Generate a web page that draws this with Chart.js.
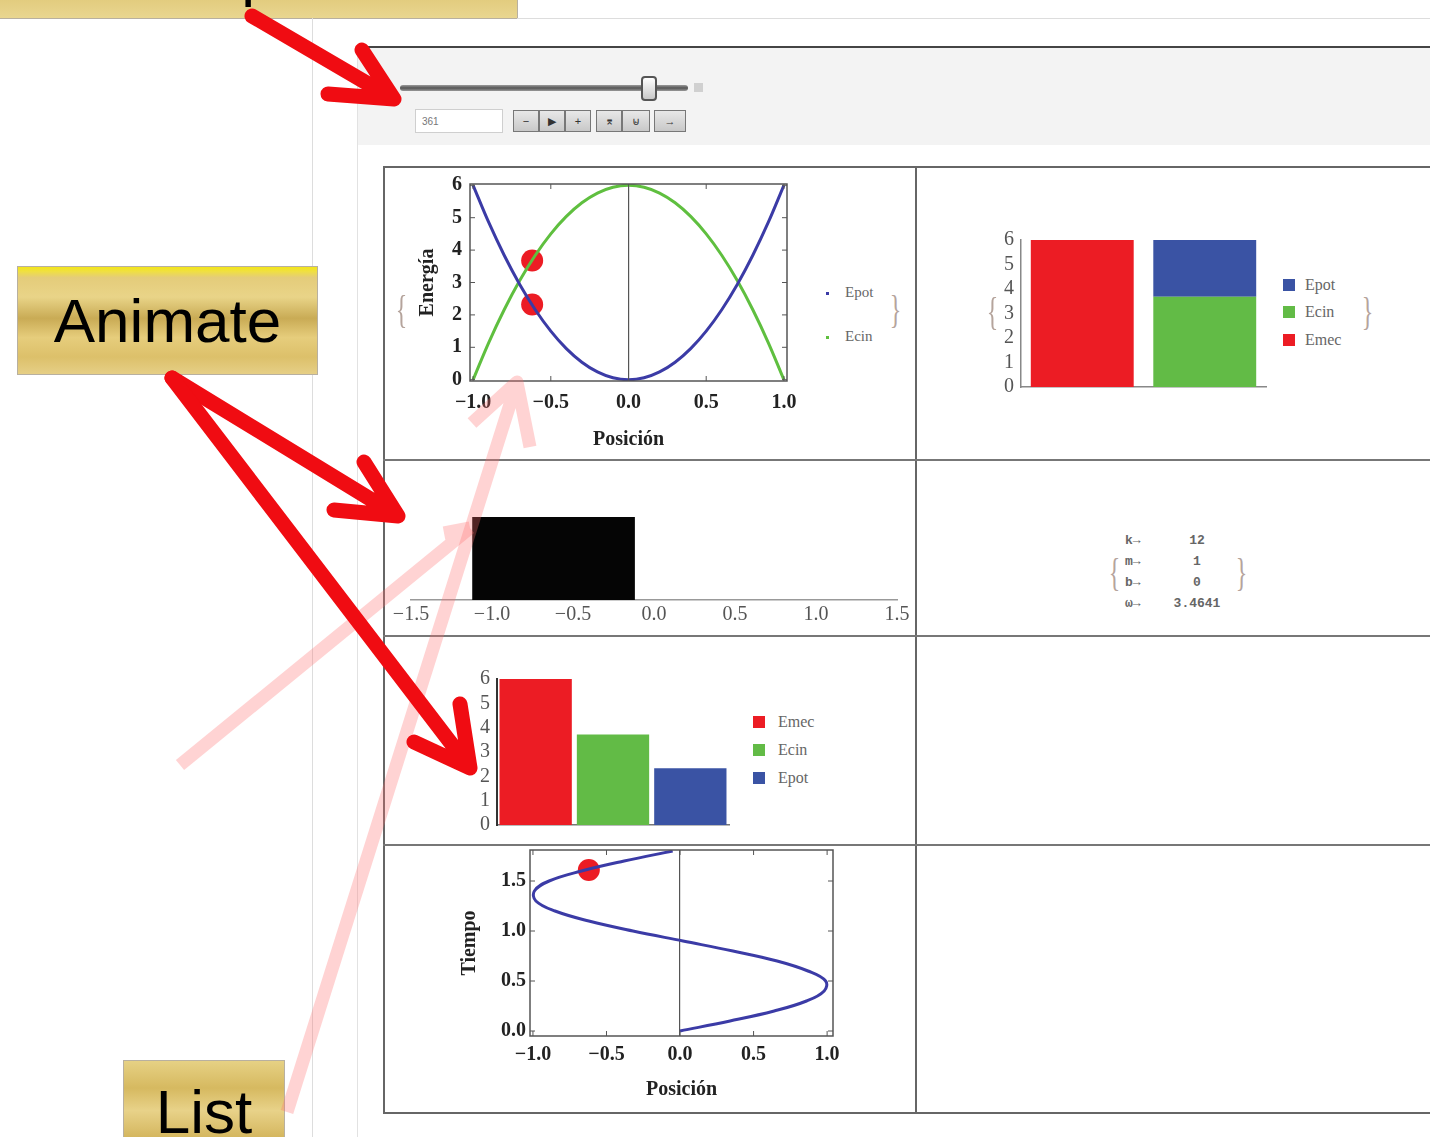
<!DOCTYPE html>
<html>
<head>
<meta charset="utf-8">
<script src="https://cdn.jsdelivr.net/npm/chart.js@4.4.1/dist/chart.umd.min.js"></script>
<style>
  body { margin: 0; width: 1430px; height: 1137px; overflow: hidden; background: #fff; position: relative; font-family: "Liberation Sans", Arial, sans-serif; }
  .abs { position: absolute; }
  .gold { position: absolute; border: 1px solid #b8b0a0; overflow: hidden; color: #000; font-family: "Liberation Sans", Arial, sans-serif; font-size: 62px; text-align: center; }
  .leg { position: absolute; font-family: "Liberation Serif", serif; font-size: 16px; color: #666; line-height: 16px; }
  .sq { position: absolute; width: 12px; height: 12px; }
  .brace { position: absolute; font-family: "Liberation Serif", serif; font-size: 40px; color: #b5a49c; line-height: 40px; transform: scaleX(0.6); }
  .btn { position: absolute; top: 110px; height: 20px; border: 1px solid #777; background: linear-gradient(#e8e8e8, #c8c8c8); font-size: 11px; color: #333; text-align: center; line-height: 20px; }
  canvas { position: absolute; }
  .param { position: absolute; font-family: "Liberation Mono", monospace; font-size: 13px; font-weight: bold; color: #666; line-height: 14px; }
</style>
</head>
<body>

<!-- slide decoration -->
<div class="gold" style="left:-1px; top:-92px; width:517px; height:109px; background:linear-gradient(#e6cf7c, #d9be66 60%, #e9d690);">
  <span class="abs" style="left:0; width:517px; top:33px; line-height:62px;">Manipulate</span>
</div>
<div class="abs" style="left:517px; top:18px; width:913px; height:1px; background:#ddd;"></div>
<div class="abs" style="left:312px; top:18px; width:1px; height:1119px; background:#ddd;"></div>

<div class="gold" style="left:17px; top:266px; width:299px; height:107px; line-height:107px;
  background:linear-gradient(#f3e51a 0%, #f0e040 4%, #e4cc7a 10%, #e9d488 28%, #c9ab55 48%, #e6cd7c 66%, #dcc06a 84%, #e6cf86 100%);">Animate</div>
<div class="gold" style="left:123px; top:1060px; width:160px; height:90px; line-height:102px;
  background:linear-gradient(#e6d184 0%, #d6b960 30%, #e8d289 55%, #d4b65e 85%, #e2c978 100%);">List</div>

<!-- Manipulate panel -->
<div class="abs" style="left:357px; top:48px; width:1073px; height:1089px; border-left:1px solid #e2e2e2;"></div>
<div class="abs" style="left:358px; top:48px; width:1072px; height:97px; background:#f3f3f3;"></div>
<div class="abs" style="left:366px; top:46px; width:1064px; height:2px; background:#444;"></div>
<div class="abs" style="left:400px; top:85px; width:288px; height:6px; border-radius:3px; background:linear-gradient(#9a9a9a,#555,#999);"></div>
<div class="abs" style="left:641px; top:76px; width:12px; height:21px; border:2px solid #555; border-radius:4px; background:linear-gradient(#fff,#c8c8c8);"></div>
<div class="abs" style="left:694px; top:83px; width:9px; height:9px; background:#d0d0d0;"></div>
<div class="abs" style="left:415px; top:109px; width:86px; height:22px; border:1px solid #cfcfcf; background:#fff; font-size:10px; color:#777; line-height:24px; text-indent:6px;">361</div>
<div class="btn" style="left:513px; width:24px;">−</div>
<div class="btn" style="left:539px; width:24px;">▶</div>
<div class="btn" style="left:565px; width:24px;">+</div>
<div class="btn" style="left:596px; width:24px;">⌆</div>
<div class="btn" style="left:622px; width:26px;">⊌</div>
<div class="btn" style="left:654px; width:30px;">→</div>

<!-- grid of the output -->
<div class="abs" style="left:383px; top:166px; width:1060px; height:944px; border:2px solid #666;"></div>
<div class="abs" style="left:915px; top:166px; width:2px; height:946px; background:#666;"></div>
<div class="abs" style="left:383px; top:459px; width:1047px; height:2px; background:#777;"></div>
<div class="abs" style="left:383px; top:635px; width:1047px; height:2px; background:#777;"></div>
<div class="abs" style="left:383px; top:844px; width:1047px; height:2px; background:#777;"></div>

<canvas id="energy" width="420" height="290" style="left:395px; top:170px;"></canvas>
<canvas id="stack" width="295" height="172" style="left:975px; top:228px;"></canvas>
<canvas id="block" width="526" height="150" style="left:386px; top:480px;"></canvas>
<canvas id="bars" width="285" height="171" style="left:455px; top:667px;"></canvas>
<canvas id="time" width="420" height="262" style="left:440px; top:845px;"></canvas>

<!-- legends -->
<div class="brace" style="left:392px; top:290px;">{</div>
<div class="brace" style="left:886px; top:290px;">}</div>
<div class="abs" style="left:826px; top:292px; width:3px; height:3px; background:#3b3ba6;"></div>
<div class="abs" style="left:826px; top:336px; width:3px; height:3px; background:#5fbf3f;"></div>
<div class="leg" style="left:845px; top:284px; font-size:15px;">Epot</div>
<div class="leg" style="left:845px; top:328px; font-size:15px;">Ecin</div>

<div class="brace" style="left:983px; top:292px;">{</div>
<div class="brace" style="left:1358px; top:292px;">}</div>
<div id="stackLegend"></div>
<div id="barLegend"></div>

<div class="brace" style="left:1105px; top:553px;">{</div>
<div class="brace" style="left:1232px; top:553px;">}</div>
<div id="params"></div>

<!-- slide arrows -->
<svg class="abs" style="left:0; top:0; z-index:10;" width="1430" height="1137">
  <g fill="none" stroke="rgba(255,110,110,0.3)" stroke-width="13" stroke-linejoin="round">
    <path d="M287 1112 L517 382 M472 423 L517 382 L530 447"/>
    <path d="M180 765 L470 528 M444 533 L470 528"/>
  </g>
  <g fill="none" stroke="#f00c12" stroke-width="15" stroke-linecap="round" stroke-linejoin="round">
    <path d="M252 16 L394 99 M328 94 L394 99 L362 50"/>
    <path d="M172 378 L398 516 M334 510 L398 516 L364 462"/>
    <path d="M172 378 L470 768 M414 742 L470 768 L460 704"/>
  </g>
</svg>

<script>
// Energy vs position
const posX = [-1.0, -0.9, -0.8, -0.7, -0.6, -0.5, -0.4, -0.3, -0.2, -0.1, 0.0,
              0.1, 0.2, 0.3, 0.4, 0.5, 0.6, 0.7, 0.8, 0.9, 1.0];
const epotY = [6.00, 4.86, 3.84, 2.94, 2.16, 1.50, 0.96, 0.54, 0.24, 0.06, 0.00,
               0.06, 0.24, 0.54, 0.96, 1.50, 2.16, 2.94, 3.84, 4.86, 6.00];
const ecinY = [0.00, 1.14, 2.16, 3.06, 3.84, 4.50, 5.04, 5.46, 5.76, 5.94, 6.00,
               5.94, 5.76, 5.46, 5.04, 4.50, 3.84, 3.06, 2.16, 1.14, 0.00];

// current state (red dots, bars, block)
const curPos = -0.62;
const curEpot = 2.32;
const curEcin = 3.68;
const curEmec = 6.0;
const barLabels = ["Emec", "Ecin", "Epot"];
const barValues = [6.0, 3.72, 2.33];
const blockFrom = -1.12, blockTo = -0.12;

// time vs position (lower-left plot)
const timeT = [0.0, 0.1, 0.2, 0.3, 0.4, 0.5, 0.6, 0.7, 0.8, 0.9, 1.0,
               1.1, 1.2, 1.3, 1.4, 1.5, 1.6, 1.7, 1.8];
const timeX = [0.00, 0.34, 0.64, 0.86, 0.98, 0.99, 0.87, 0.66, 0.36, 0.02, -0.32,
               -0.62, -0.85, -0.98, -0.99, -0.89, -0.67, -0.38, -0.05];
const curT = 1.61;

// parameters
const paramNames = ["k", "m", "b", "ω"];
const paramValues = ["12", "1", "0", "3.4641"];

// tick labels
const posTicks = [-1, -0.5, 0, 0.5, 1];
const energyTicks = [0, 1, 2, 3, 4, 5, 6];
const blockTicks = [-1.5, -1, -0.5, 0, 0.5, 1, 1.5];
const timeTicks = [0, 0.5, 1, 1.5];

const RED = "#ec1c24", GREEN = "#62bb46", BLUE = "#3a53a4";
const CURVE_BLUE = "#3b3ba6", CURVE_GREEN = "#5fbf3f";

const boldSerif = { family: "Liberation Serif", size: 20, weight: "bold" };
const serif = { family: "Liberation Serif", size: 20 };

// helpers for fixed axis sizes so plot areas land where they should
const fixW = w => s => { s.width = w; s.paddingTop = 0; s.paddingBottom = 0; };
const fixH = h => s => { s.height = h; s.paddingLeft = 0; s.paddingRight = 0; };
const setTicks = list => s => { s.ticks = list.map(v => ({ value: v })); };
const fmt1 = v => (v < 0 ? "−" : "") + Math.abs(v).toFixed(1);

// Mathematica-like frame with small inward ticks
const framePlugin = {
    id: "frame",
    afterDraw(chart) {
        const { ctx, chartArea: a, scales } = chart;
        ctx.save();
        ctx.strokeStyle = "#555";
        ctx.lineWidth = 1.5;
        ctx.strokeRect(a.left, a.top, a.right - a.left, a.bottom - a.top);
        ctx.lineWidth = 1;
        ctx.beginPath();
        scales.x.ticks.forEach(t => {
            const px = scales.x.getPixelForValue(t.value);
            ctx.moveTo(px, a.bottom); ctx.lineTo(px, a.bottom - 5);
            ctx.moveTo(px, a.top); ctx.lineTo(px, a.top + 5);
        });
        scales.y.ticks.forEach(t => {
            const py = scales.y.getPixelForValue(t.value);
            ctx.moveTo(a.left, py); ctx.lineTo(a.left + 5, py);
            ctx.moveTo(a.right, py); ctx.lineTo(a.right - 5, py);
        });
        ctx.stroke();
        ctx.restore();
    }
};

const base = {
    responsive: false,
    animation: false,
    events: [],
    plugins: { legend: { display: false }, tooltip: { enabled: false } }
};

const zeroLine = c => (c.tick && c.tick.value === 0 ? "#555" : "rgba(0,0,0,0)");

// energy vs position
new Chart(document.getElementById("energy"), {
    type: "scatter",
    data: {
        datasets: [
            { data: posX.map((x, i) => ({ x: x, y: epotY[i] })), showLine: true, borderColor: CURVE_BLUE, borderWidth: 3, pointRadius: 0, tension: 0.4 },
            { data: posX.map((x, i) => ({ x: x, y: ecinY[i] })), showLine: true, borderColor: CURVE_GREEN, borderWidth: 3, pointRadius: 0, tension: 0.4 },
            { data: [{ x: curPos, y: curEcin }, { x: curPos, y: curEpot }], pointRadius: 11, backgroundColor: RED, borderWidth: 0 }
        ]
    },
    options: {
        ...base,
        layout: { autoPadding: false, padding: { top: 14, right: 28, left: 0, bottom: 0 } },
        scales: {
            x: {
                type: "linear", min: -1.02, max: 1.02,
                afterBuildTicks: setTicks(posTicks), afterFit: fixH(79),
                grid: { drawTicks: false, color: zeroLine, lineWidth: 1.2 },
                border: { display: false },
                ticks: { padding: 10, font: boldSerif, color: "#222", callback: fmt1 },
                title: { display: true, text: "Posición", font: boldSerif, color: "#222", padding: { top: 0, bottom: 8 } }
            },
            y: {
                min: -0.04, max: 6.04,
                afterBuildTicks: setTicks(energyTicks), afterFit: fixW(75),
                grid: { display: false, drawTicks: false }, border: { display: false },
                ticks: { padding: 8, font: boldSerif, color: "#222", autoSkip: false, callback: v => v },
                title: { display: true, text: "Energía", font: boldSerif, color: "#222", padding: { top: 21, bottom: 0 } }
            }
        }
    },
    plugins: [framePlugin]
});

// stacked energy bars
new Chart(document.getElementById("stack"), {
    type: "bar",
    data: {
        labels: ["Emec", "Ecin + Epot"],
        datasets: [
            { label: "Emec", data: [curEmec, null], backgroundColor: RED },
            { label: "Ecin", data: [null, curEcin], backgroundColor: GREEN },
            { label: "Epot", data: [null, curEpot], backgroundColor: BLUE }
        ]
    },
    options: {
        ...base,
        layout: { autoPadding: false, padding: { top: 12, right: 4, left: 0, bottom: 0 } },
        datasets: { bar: { barPercentage: 1, categoryPercentage: 0.84, borderWidth: 0 } },
        scales: {
            x: {
                stacked: true, afterFit: fixH(13),
                grid: { display: false, drawTicks: false }, ticks: { display: false },
                border: { color: "#888", width: 1.5 }
            },
            y: {
                stacked: true, min: 0, max: 6,
                afterBuildTicks: setTicks(energyTicks), afterFit: fixW(46),
                grid: { display: false, drawTicks: false }, border: { color: "#888", width: 1.5 },
                ticks: { padding: 7, font: serif, color: "#555", autoSkip: false }
            }
        }
    }
});

// mass position block
new Chart(document.getElementById("block"), {
    type: "bar",
    data: {
        labels: ["m"],
        datasets: [{ data: [[blockFrom, blockTo]], backgroundColor: "#050505", barPercentage: 1, categoryPercentage: 1 }]
    },
    options: {
        ...base,
        indexAxis: "y",
        layout: { autoPadding: false, padding: { top: 37, right: 15, left: 25, bottom: 0 } },
        scales: {
            x: {
                type: "linear", min: -1.5, max: 1.5,
                afterBuildTicks: setTicks(blockTicks), afterFit: fixH(30),
                grid: { display: false, drawTicks: false }, border: { color: "#999", width: 1.5 },
                ticks: { padding: 3, font: serif, color: "#555", autoSkip: false, callback: fmt1 }
            },
            y: { display: false }
        }
    }
});

// energy bars side by side
new Chart(document.getElementById("bars"), {
    type: "bar",
    data: {
        labels: barLabels,
        datasets: [{ data: barValues, backgroundColor: [RED, GREEN, BLUE], barPercentage: 1, categoryPercentage: 0.935 }]
    },
    options: {
        ...base,
        layout: { autoPadding: false, padding: { top: 12, right: 11, left: 0, bottom: 0 } },
        scales: {
            x: {
                afterFit: fixH(13),
                grid: { display: false, drawTicks: false }, ticks: { display: false },
                border: { color: "#777", width: 1.5 }
            },
            y: {
                min: 0, max: 6,
                afterBuildTicks: setTicks(energyTicks), afterFit: fixW(42),
                grid: { display: false, drawTicks: false }, border: { color: "#333", width: 2 },
                ticks: { padding: 7, font: serif, color: "#555", autoSkip: false }
            }
        }
    }
});

// time vs position
new Chart(document.getElementById("time"), {
    type: "scatter",
    data: {
        datasets: [
            { data: timeX.map((x, i) => ({ x: x, y: timeT[i] })), showLine: true, borderColor: CURVE_BLUE, borderWidth: 3, pointRadius: 0, tension: 0.4 },
            { data: [{ x: curPos, y: curT }], pointRadius: 11, backgroundColor: RED, borderWidth: 0 }
        ]
    },
    options: {
        ...base,
        layout: { autoPadding: false, padding: { top: 5, right: 27, left: 0, bottom: 0 } },
        scales: {
            x: {
                type: "linear", min: -1.02, max: 1.04,
                afterBuildTicks: setTicks(posTicks), afterFit: fixH(71),
                grid: { drawTicks: false, color: zeroLine, lineWidth: 1.2 },
                border: { display: false },
                ticks: { padding: 7, font: boldSerif, color: "#222", callback: fmt1 },
                title: { display: true, text: "Posición", font: boldSerif, color: "#222", padding: { top: 0, bottom: 5 } }
            },
            y: {
                min: -0.05, max: 1.81,
                afterBuildTicks: setTicks(timeTicks), afterFit: fixW(90),
                grid: { display: false, drawTicks: false }, border: { display: false },
                ticks: { padding: 4, font: boldSerif, color: "#222", autoSkip: false, callback: fmt1 },
                title: { display: true, text: "Tiempo", font: boldSerif, color: "#222", padding: { top: 18, bottom: 0 } }
            }
        }
    },
    plugins: [framePlugin]
});

// html legends and parameter list
function buildLegend(id, names, colors, sqLeft, textLeft, tops) {
    const box = document.getElementById(id);
    names.forEach((n, i) => {
        const sq = document.createElement("div");
        sq.className = "sq";
        sq.style.left = sqLeft + "px";
        sq.style.top = (tops[i] - 6) + "px";
        sq.style.background = colors[i];
        box.appendChild(sq);
        const t = document.createElement("div");
        t.className = "leg";
        t.style.left = textLeft + "px";
        t.style.top = (tops[i] - 8) + "px";
        t.textContent = n;
        box.appendChild(t);
    });
}
buildLegend("stackLegend", ["Epot", "Ecin", "Emec"], [BLUE, GREEN, RED], 1283, 1305, [285, 312, 340]);
buildLegend("barLegend", barLabels, [RED, GREEN, BLUE], 753, 778, [722, 750, 778]);

const params = document.getElementById("params");
paramNames.forEach((n, i) => {
    const top = 534 + i * 21;
    const a = document.createElement("div");
    a.className = "param";
    a.style.left = "1125px";
    a.style.top = top + "px";
    a.textContent = n + "→";
    params.appendChild(a);
    const b = document.createElement("div");
    b.className = "param";
    b.style.left = "1150px";
    b.style.width = "94px";
    b.style.textAlign = "center";
    b.style.top = top + "px";
    b.textContent = paramValues[i];
    params.appendChild(b);
});
</script>
</body>
</html>
